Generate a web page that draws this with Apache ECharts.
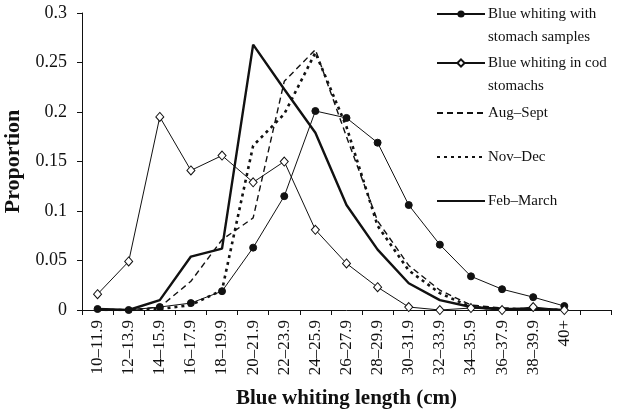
<!DOCTYPE html>
<html>
<head>
<meta charset="utf-8">
<script src="https://cdn.jsdelivr.net/npm/echarts@6/dist/echarts.min.js"></script>
<style>
html,body{margin:0;padding:0;background:#fff;}
#chart{width:620px;height:417px;}
</style>
</head>
<body>
<div id="chart"></div>
<script>
const categories = ['10–11.9','12–13.9','14–15.9','16–17.9','18–19.9','20–21.9','22–23.9','24–25.9','26–27.9','28–29.9','30–31.9','32–33.9','34–35.9','36–37.9','38–39.9','40+',''];
const stomachSamples = [0.001, 0, 0.003, 0.007, 0.019, 0.063, 0.115, 0.201, 0.194, 0.169, 0.106, 0.066, 0.034, 0.021, 0.013, 0.004];
const codStomachs = [0.016, 0.049, 0.195, 0.141, 0.156, 0.129, 0.150, 0.081, 0.047, 0.023, 0.003, 0.000, 0.002, 0.000, 0.003, 0.000];
const augSept = [0, 0, 0.003, 0.029, 0.071, 0.093, 0.231, 0.263, 0.175, 0.090, 0.045, 0.020, 0.005, 0.002, 0.001, 0];
const novDec = [0, 0, 0.001, 0.005, 0.020, 0.166, 0.198, 0.260, 0.185, 0.085, 0.040, 0.017, 0.003, 0.001, 0.001, 0];
const febMarch = [0.001, 0, 0.010, 0.054, 0.062, 0.268, 0.223, 0.179, 0.106, 0.061, 0.027, 0.010, 0.003, 0.001, 0.001, 0];
const yTicks = [0, 0.05, 0.1, 0.15, 0.2, 0.25, 0.3];

const FONT = '"Liberation Serif", "DejaVu Serif", serif';
const names = ['Blue whiting with stomach samples', 'Blue whiting in cod stomachs', 'Aug–Sept', 'Nov–Dec', 'Feb–March'];
const legendLabels = {
  'Blue whiting with stomach samples': '\nBlue whiting with\nstomach samples',
  'Blue whiting in cod stomachs': '\nBlue whiting in cod\nstomachs'
};
const legendCenters = [14, 63, 113, 157, 201];

function mkLegend(i) {
  const multi = i < 2;
  const h = multi ? 69 : 23;
  const lg = {
    data: [names[i]],
    left: 436,
    top: legendCenters[i] - h / 2,
    orient: 'vertical',
    itemWidth: 48,
    itemHeight: 9,
    padding: 0,
    selectedMode: false,
    formatter: n => legendLabels[n] || n,
    textStyle: { fontFamily: FONT, fontSize: 15, color: '#111', lineHeight: 23, padding: [0, 0, 0, -2] }
  };
  if (!multi) {
    lg.itemStyle = { color: 'rgba(0,0,0,0)', borderColor: 'rgba(0,0,0,0)', borderWidth: 0, opacity: 0 };
  }
  return lg;
}

const chart = echarts.init(document.getElementById('chart'), null, { renderer: 'canvas' });
chart.setOption({
  backgroundColor: '#fff',
  animation: false,
  textStyle: { fontFamily: FONT },
  grid: { left: 82, right: 9, top: 13, bottom: 107, containLabel: false, outerBoundsMode: 'none' },
  legend: [0, 1, 2, 3, 4].map(mkLegend),
  xAxis: {
    type: 'category',
    data: categories,
    boundaryGap: true,
    axisLine: { lineStyle: { color: '#111', width: 1 } },
    axisTick: { show: true, interval: 0, length: 5, inside: false, lineStyle: { color: '#111' } },
    axisLabel: { interval: 0, rotate: 90, margin: 10, fontFamily: FONT, fontSize: 17, color: '#111' },
    splitLine: { show: false },
    name: 'Blue whiting length (cm)',
    nameLocation: 'middle',
    nameGap: 78,
    nameTextStyle: { fontFamily: FONT, fontSize: 21, fontWeight: 'bold', color: '#111' }
  },
  yAxis: {
    type: 'value',
    min: yTicks[0],
    max: yTicks[yTicks.length - 1],
    interval: 0.05,
    axisLine: { show: true, lineStyle: { color: '#111', width: 1 } },
    axisTick: { show: true, length: 5, lineStyle: { color: '#111' } },
    axisLabel: { margin: 15, fontFamily: FONT, fontSize: 18, color: '#111' },
    splitLine: { show: false },
    name: 'Proportion',
    nameLocation: 'middle',
    nameGap: 55,
    nameRotate: 90,
    nameTextStyle: { fontFamily: FONT, fontSize: 22, fontWeight: 'bold', color: '#111' }
  },
  series: [
    {
      name: names[0], type: 'line', data: stomachSamples,
      symbol: 'circle', symbolSize: 7, showSymbol: true,
      itemStyle: { color: '#111', borderColor: '#111' },
      lineStyle: { color: '#111', width: 1 }, z: 5
    },
    {
      name: names[1], type: 'line', data: codStomachs,
      symbol: 'diamond', symbolSize: [8, 9], showSymbol: true,
      itemStyle: { color: '#fff', borderColor: '#111', borderWidth: 1 },
      lineStyle: { color: '#111', width: 1 }, z: 6
    },
    {
      name: names[2], type: 'line', data: augSept, symbol: 'none',
      itemStyle: { color: '#111' },
      lineStyle: { color: '#111', width: 1.4, type: [6, 4] }, z: 3
    },
    {
      name: names[3], type: 'line', data: novDec, symbol: 'none',
      itemStyle: { color: '#111' },
      lineStyle: { color: '#111', width: 2.6, type: [3, 4] }, z: 3
    },
    {
      name: names[4], type: 'line', data: febMarch, symbol: 'none',
      itemStyle: { color: '#111' },
      lineStyle: { color: '#111', width: 2.4 }, z: 4
    }
  ]
});
</script>
</body>
</html>
